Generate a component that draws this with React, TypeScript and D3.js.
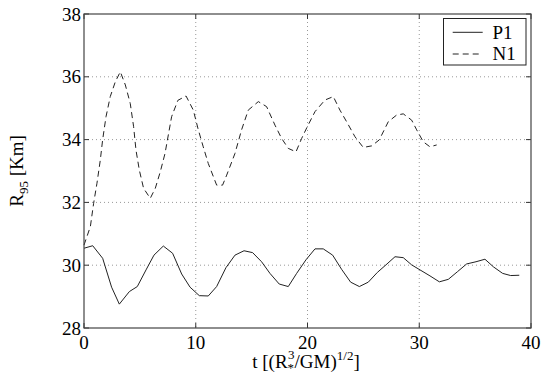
import * as d3 from "d3";

const tP1 = [0, 0.78, 1.67, 2.47, 3.16, 4.06, 4.77, 5.55, 6.26, 7.1, 7.93, 8.74, 9.49, 10.32, 11.12, 11.87, 12.7, 13.51, 14.32, 15.09, 15.89, 16.64, 17.47, 18.28, 19.03, 19.86, 20.67, 21.41, 22.25, 23.05, 23.86, 24.64, 25.44, 26.25, 27.02, 27.83, 28.57, 29.32, 30.07, 30.96, 31.8, 32.6, 33.41, 34.24, 35.08, 35.88, 36.63, 37.46, 38.18, 38.95];
const rP1 = [30.54, 30.62, 30.22, 29.3, 28.76, 29.16, 29.32, 29.85, 30.32, 30.61, 30.38, 29.72, 29.3, 29.03, 29.02, 29.32, 29.92, 30.32, 30.46, 30.4, 30.11, 29.74, 29.4, 29.32, 29.74, 30.17, 30.52, 30.52, 30.32, 29.87, 29.46, 29.32, 29.46, 29.77, 30.01, 30.27, 30.24, 30.01, 29.85, 29.66, 29.47, 29.55, 29.79, 30.04, 30.11, 30.19, 29.95, 29.74, 29.67, 29.68];

const tN1 = [0, 0.57, 0.86, 1.16, 1.46, 1.67, 1.97, 2.35, 2.8, 3.25, 3.7, 4.14, 4.44, 4.65, 4.95, 5.33, 5.93, 6.38, 6.83, 7.25, 7.84, 8.4, 9.13, 9.78, 10.23, 10.67, 11.12, 11.87, 12.4, 12.77, 13.51, 14.1, 14.7, 15.6, 16.34, 17.09, 17.68, 18.28, 18.97, 19.48, 19.98, 20.67, 21.56, 22.31, 22.9, 23.5, 24.25, 24.99, 25.74, 26.42, 27.23, 27.97, 28.57, 29.32, 29.77, 30.36, 30.96, 31.56];
const rN1 = [30.64, 31.23, 31.97, 32.61, 33.35, 34.0, 34.73, 35.37, 35.84, 36.16, 35.74, 35.15, 34.41, 33.67, 33.03, 32.45, 32.13, 32.45, 32.98, 33.56, 34.73, 35.25, 35.39, 34.94, 34.31, 33.77, 33.24, 32.55, 32.55, 32.87, 33.56, 34.31, 34.94, 35.21, 35.05, 34.46, 34.04, 33.72, 33.61, 34.04, 34.41, 34.89, 35.26, 35.37, 34.94, 34.57, 34.09, 33.75, 33.8, 33.99, 34.57, 34.78, 34.82, 34.62, 34.31, 33.93, 33.77, 33.83];

const xTicks = [0, 10, 20, 30, 40];
const yTicks = [28, 30, 32, 34, 36, 38];

const L = 84, R = 531, T = 14, B = 328;
const FONT = "'Liberation Serif', 'Times New Roman', serif";

export default function App() {
  const x = d3.scaleLinear().domain([0, 40]).range([L, R]);
  const y = d3.scaleLinear().domain([28, 38]).range([B, T]);
  const line = d3.line<[number, number]>().x((d) => x(d[0])).y((d) => y(d[1]));
  const p1 = line(tP1.map((t, i) => [t, rP1[i]]) as [number, number][]) || "";
  const n1 = line(tN1.map((t, i) => [t, rN1[i]]) as [number, number][]) || "";

  return (
    <svg width={545} height={381} style={{ position: "absolute", left: 0, top: 0, background: "#fff", fontFamily: FONT }}>
      <rect x={0} y={0} width={545} height={381} fill="#fff" />
      {/* grid */}
      {xTicks.slice(1, -1).map((t) => (
        <line key={"gx" + t} x1={x(t)} x2={x(t)} y1={T} y2={B} stroke="#999" strokeWidth={1} strokeDasharray="1,3" />
      ))}
      {yTicks.slice(1, -1).map((t) => (
        <line key={"gy" + t} x1={L} x2={R} y1={y(t)} y2={y(t)} stroke="#999" strokeWidth={1} strokeDasharray="1,3" />
      ))}
      {/* ticks inward */}
      {xTicks.map((t) => (
        <g key={"tx" + t}>
          <line x1={x(t)} x2={x(t)} y1={B} y2={B - 5} stroke="#333" />
          <line x1={x(t)} x2={x(t)} y1={T} y2={T + 5} stroke="#333" />
        </g>
      ))}
      {yTicks.map((t) => (
        <g key={"ty" + t}>
          <line x1={L} x2={L + 5} y1={y(t)} y2={y(t)} stroke="#333" />
          <line x1={R} x2={R - 5} y1={y(t)} y2={y(t)} stroke="#333" />
        </g>
      ))}
      {/* data */}
      <path d={p1} fill="none" stroke="#222" strokeWidth={1} />
      <path d={n1} fill="none" stroke="#222" strokeWidth={1} strokeDasharray="6,4" />
      {/* box */}
      <rect x={L} y={T} width={R - L} height={B - T} fill="none" stroke="#444" strokeWidth={1.2} />
      {/* tick labels */}
      {xTicks.map((t) => (
        <text key={"lx" + t} x={x(t)} y={349} textAnchor="middle" fontSize={19} fontFamily={FONT} fill="#000">{t}</text>
      ))}
      {yTicks.map((t) => (
        <text key={"ly" + t} x={L - 3} y={y(t)} dy="0.35em" textAnchor="end" fontSize={19} fontFamily={FONT} fill="#000">{t}</text>
      ))}
      {/* axis labels */}
      <text x={306} y={368} textAnchor="middle" fontSize={19} fontFamily={FONT} fill="#000">
        t [(R<tspan dy={4} fontSize={13}>*</tspan>
        <tspan dx={-6} dy={-13} fontSize={13}>3</tspan>
        <tspan dy={9}>/GM)</tspan>
        <tspan dy={-8} fontSize={13}>1/2</tspan>
        <tspan dy={8}>]</tspan>
      </text>
      <text transform="translate(22.5,171) rotate(-90)" textAnchor="middle" fontSize={19} fontFamily={FONT} fill="#000">
        R<tspan dy={5} fontSize={13}>95</tspan>
        <tspan dy={-5}> [Km]</tspan>
      </text>
      {/* legend */}
      <rect x={443.5} y={18.5} width={82.5} height={46.5} fill="#fff" stroke="#222" strokeWidth={1} />
      <line x1={452.7} x2={482.7} y1={32.3} y2={32.3} stroke="#222" strokeWidth={1} />
      <line x1={452.7} x2={482.7} y1={54} y2={54} stroke="#222" strokeWidth={1} strokeDasharray="6,4" />
      <text x={492.5} y={39} fontSize={19} fontFamily={FONT} fill="#000">P1</text>
      <text x={492.5} y={59.5} fontSize={19} fontFamily={FONT} fill="#000">N1</text>
    </svg>
  );
}
